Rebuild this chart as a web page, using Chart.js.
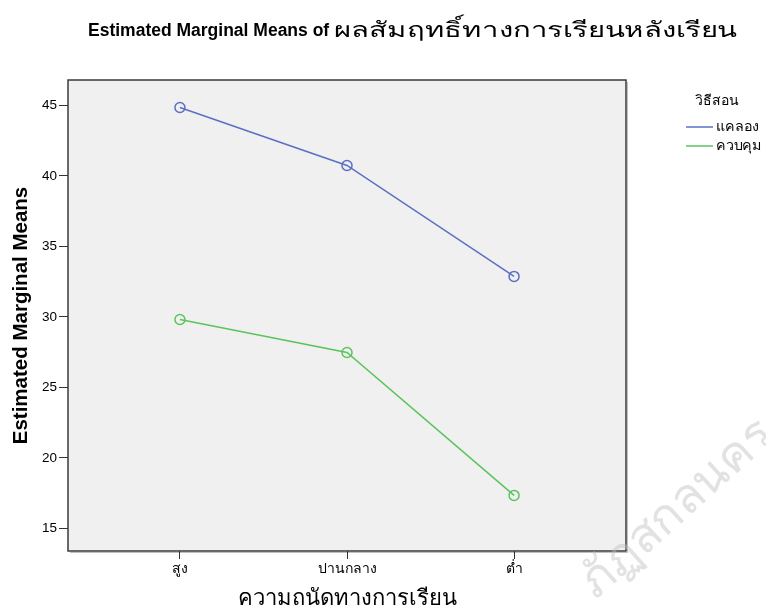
<!DOCTYPE html>
<html>
<head>
<meta charset="utf-8">
<script src="https://cdn.jsdelivr.net/npm/chart.js@4"></script>
<style>
  html, body { margin: 0; padding: 0; background: #fff; }
  #wrap { width: 766px; height: 612px; position: relative; }
</style>
</head>
<body>
<div id="wrap"><canvas id="chart"></canvas></div>
<script>
// ความถนัดทางการเรียน (x categories)
const categories = ['สูง', 'ปานกลาง', 'ต่ำ'];
// วิธีสอน groups
const seriesNames = ['แคลอง', 'ควบคุม'];
const experimentMeans = [44.85, 40.74, 32.87];
const controlMeans = [29.82, 27.48, 17.34];
const yTicks = [15, 20, 25, 30, 35, 40, 45];

const titleBold = 'Estimated Marginal Means of ';
const titleThai = 'ผลสัมฤทธิ์ทางการเรียนหลังเรียน';
const legendTitle = 'วิธีสอน';
const watermark = 'ภัฏสกลนคร';

const fontLatin = 'Arial, "Liberation Sans", sans-serif';
const fontThai = 'Tahoma, "Noto Sans", "DejaVu Sans", sans-serif';

const plotLook = {
    id: 'plotLook',
    beforeDraw(chart) {
        const a = chart.chartArea, ctx = chart.ctx;
        ctx.save();
        ctx.fillStyle = '#f0f0f0';
        ctx.fillRect(a.left, a.top, a.right - a.left, a.bottom - a.top);
        ctx.restore();
    },
    afterDraw(chart) {
        const a = chart.chartArea, ctx = chart.ctx;
        ctx.save();
        // box
        ctx.strokeStyle = '#3a3a3a';
        ctx.lineWidth = 1.5;
        ctx.strokeRect(a.left, a.top, a.right - a.left, a.bottom - a.top);
        ctx.strokeStyle = 'rgba(0,0,0,0.25)';
        ctx.lineWidth = 1;
        ctx.beginPath();
        ctx.moveTo(a.right + 1.5, a.top + 2);
        ctx.lineTo(a.right + 1.5, a.bottom + 1.5);
        ctx.lineTo(a.left + 2, a.bottom + 1.5);
        ctx.stroke();

        // title: bold latin part + wide thai part
        ctx.fillStyle = '#000';
        ctx.textBaseline = 'middle';
        ctx.textAlign = 'left';
        ctx.font = 'bold 17.5px ' + fontLatin;
        ctx.fillText(titleBold, 88, 31);
        const w1 = ctx.measureText(titleBold).width;
        ctx.font = '21px ' + fontThai;
        const w2 = ctx.measureText(titleThai).width;
        const sx = (737 - 88 - w1) / w2;
        ctx.save();
        ctx.translate(88 + w1, 31);
        ctx.scale(sx, 1);
        ctx.fillText(titleThai, 0, 0);
        ctx.restore();

        // legend
        ctx.font = '14px ' + fontThai;
        ctx.textAlign = 'center';
        ctx.fillText(legendTitle, 717, 101);
        ctx.font = '13px ' + fontThai;
        ctx.textAlign = 'left';
        chart.data.datasets.forEach((ds, i) => {
            const y = 127 + i * 19;
            ctx.strokeStyle = ds.borderColor;
            ctx.lineWidth = 1.5;
            ctx.beginPath();
            ctx.moveTo(686, y);
            ctx.lineTo(713, y);
            ctx.stroke();
            ctx.fillStyle = '#000';
            ctx.save();
            ctx.translate(716, y);
            ctx.scale(1.1, 1);
            ctx.fillText(ds.label, 0, 0);
            ctx.restore();
        });

        // faint watermark
        ctx.translate(596, 600);
        ctx.rotate(-42 * Math.PI / 180);
        ctx.font = '48px ' + fontThai;
        ctx.textAlign = 'left';
        ctx.textBaseline = 'alphabetic';
        ctx.fillStyle = 'rgba(190,190,190,0.45)';
        ctx.fillText(watermark, 0, 0);
        ctx.restore();
    }
};

new Chart(document.getElementById('chart'), {
    type: 'line',
    data: {
        datasets: [
            {
                label: seriesNames[0],
                data: experimentMeans.map((v, i) => ({ x: i, y: v })),
                borderColor: '#5b6fc4',
                backgroundColor: 'rgba(0,0,0,0)',
                borderWidth: 1.5,
                pointRadius: 5,
                pointBorderWidth: 1.5,
                pointStyle: 'circle'
            },
            {
                label: seriesNames[1],
                data: controlMeans.map((v, i) => ({ x: i, y: v })),
                borderColor: '#5cc45c',
                backgroundColor: 'rgba(0,0,0,0)',
                borderWidth: 1.5,
                pointRadius: 5,
                pointBorderWidth: 1.5,
                pointStyle: 'circle'
            }
        ]
    },
    options: {
        responsive: true,
        maintainAspectRatio: false,
        animation: false,
        layout: { padding: { top: 80, right: 140, left: 0, bottom: 0 } },
        plugins: {
            legend: { display: false },
            title: { display: false },
            tooltip: { enabled: false }
        },
        scales: {
            x: {
                type: 'linear',
                min: -0.67,
                max: 2.67,
                afterBuildTicks: s => { s.ticks = categories.map((c, i) => ({ value: i })); },
                afterFit: s => { s.height = 61; },
                border: { display: false },
                grid: { drawOnChartArea: false, drawTicks: true, tickLength: 8, color: '#333' },
                ticks: {
                    color: '#000',
                    font: { size: 14, family: fontThai },
                    padding: 2,
                    callback: v => categories[v]
                },
                title: {
                    display: true,
                    text: 'ความถนัดทางการเรียน',
                    color: '#000',
                    font: { size: 22, family: fontThai },
                    padding: { top: 0, bottom: 0 }
                }
            },
            y: {
                min: 13.4,
                max: 46.8,
                afterBuildTicks: s => { s.ticks = yTicks.map(v => ({ value: v })); },
                afterFit: s => { s.width = 68; },
                border: { display: false },
                grid: { drawOnChartArea: false, drawTicks: true, tickLength: 9, color: '#333' },
                ticks: {
                    color: '#000',
                    font: { size: 13.5, family: fontLatin },
                    padding: 2
                },
                title: {
                    display: true,
                    text: 'Estimated Marginal Means',
                    color: '#000',
                    font: { size: 20.5, weight: 'bold', family: fontLatin },
                    padding: { top: 9, bottom: 6 }
                }
            }
        }
    },
    plugins: [plotLook]
});
</script>
</body>
</html>
